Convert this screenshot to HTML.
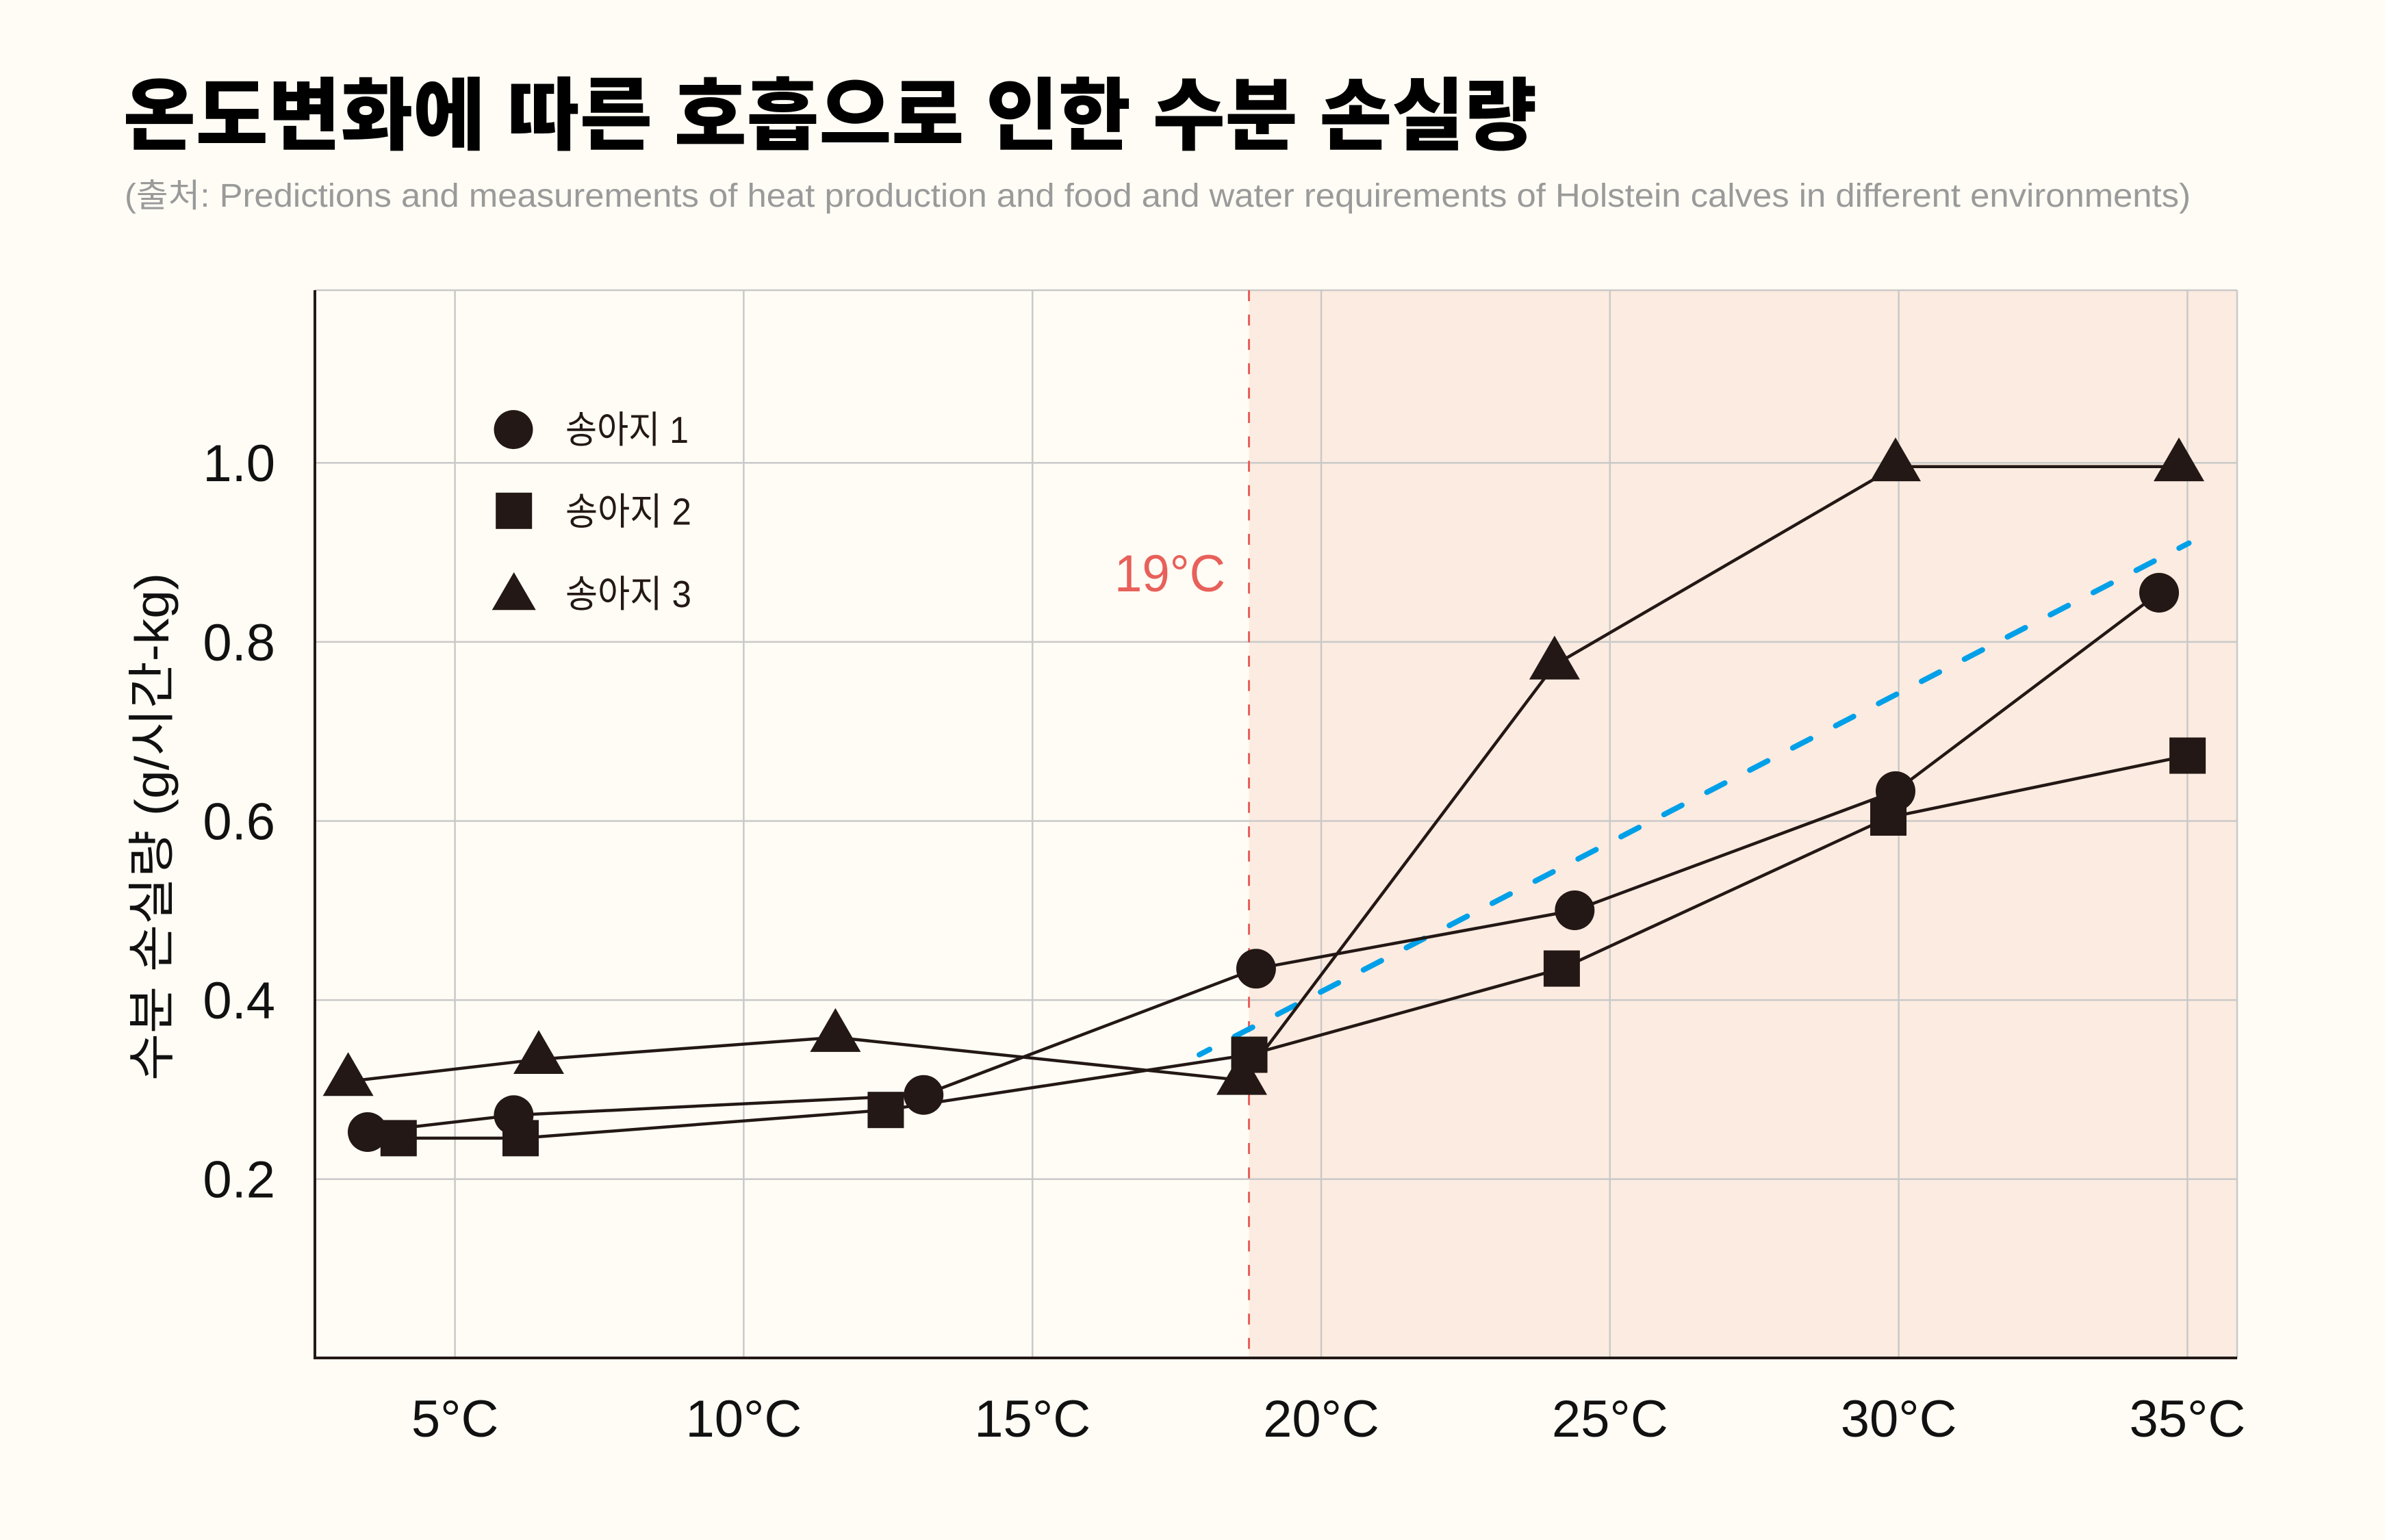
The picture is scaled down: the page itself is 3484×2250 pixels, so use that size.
<!DOCTYPE html>
<html>
<head>
<meta charset="utf-8">
<style>
html,body{margin:0;padding:0;background:#fffcf5;}
svg{display:block;}
</style>
</head>
<body>
<svg xmlns="http://www.w3.org/2000/svg" xmlns:xlink="http://www.w3.org/1999/xlink" width="3484" height="2250" viewBox="0 0 3484 2250">
<defs>
<path id="tri" d="M0,-42.7 L37,21.3 L-37,21.3Z" fill="#231815"/>
</defs>
<rect x="0" y="0" width="3484" height="2250" fill="#fffcf5"/>

<!-- Title -->
<text x="180" y="209" font-family="'Liberation Sans','Noto Sans CJK KR',sans-serif" font-size="115" font-weight="900" fill="#000" textLength="2065" lengthAdjust="spacingAndGlyphs">온도변화에 따른 호흡으로 인한 수분 손실량</text>
<!-- Subtitle -->
<text x="182" y="302" font-family="'Liberation Sans','Noto Sans CJK KR',sans-serif" font-size="48" fill="#9a9a9a" textLength="3018" lengthAdjust="spacingAndGlyphs">(출처: Predictions and measurements of heat production and food and water requirements of Holstein calves in different environments)</text>

<!-- shaded region -->
<rect x="1824.5" y="424" width="1443.5" height="1560" fill="#fcebe0"/>

<!-- gridlines -->
<g stroke="#c9c9c9" stroke-width="2.5">
<line x1="664.6" y1="424" x2="664.6" y2="1984"/>
<line x1="1086.4" y1="424" x2="1086.4" y2="1984"/>
<line x1="1508.2" y1="424" x2="1508.2" y2="1984"/>
<line x1="1930" y1="424" x2="1930" y2="1984"/>
<line x1="2351.8" y1="424" x2="2351.8" y2="1984"/>
<line x1="2773.6" y1="424" x2="2773.6" y2="1984"/>
<line x1="3195.4" y1="424" x2="3195.4" y2="1984"/>
<line x1="460" y1="676.3" x2="3268" y2="676.3"/>
<line x1="460" y1="937.9" x2="3268" y2="937.9"/>
<line x1="460" y1="1199.5" x2="3268" y2="1199.5"/>
<line x1="460" y1="1461.1" x2="3268" y2="1461.1"/>
<line x1="460" y1="1722.7" x2="3268" y2="1722.7"/>
<line x1="460" y1="424" x2="3268" y2="424"/>
<line x1="3268" y1="424" x2="3268" y2="1984"/>
</g>

<!-- red dashed threshold -->
<line x1="1824.5" y1="424" x2="1824.5" y2="1984" stroke="#e8605a" stroke-width="3" stroke-dasharray="16 19.6"/>
<text x="1790" y="864" text-anchor="end" font-family="'Liberation Sans',sans-serif" font-size="76" fill="#e8605a" textLength="162" lengthAdjust="spacingAndGlyphs">19°C</text>

<!-- blue dashed trend -->
<line x1="1752" y1="1541" x2="3197.5" y2="793.5" stroke="#00a0e9" stroke-width="8" stroke-linecap="round" stroke-dasharray="29.4 41.2" stroke-dashoffset="12.5"/>

<!-- series lines -->
<g fill="none" stroke="#231815" stroke-width="4.5" stroke-linejoin="round">
<polyline points="537,1654 750.4,1629.3 1349.2,1599.7 1834.9,1415.3 2300.3,1330 2769,1155.9 3154,866"/>
<polyline points="582.3,1662.9 760.5,1662.9 1293.9,1621.7 1825,1541 2281.4,1415.1 2758.5,1194.5 3195.6,1104"/>
<polyline points="508.6,1580 787,1547.7 1220.4,1515.6 1814,1578.3 2270.9,971.5 2769,681.8 3183,681.8"/>
</g>

<!-- markers -->
<g fill="#231815">
<circle cx="537" cy="1654" r="29"/>
<circle cx="750.4" cy="1629.3" r="29"/>
<circle cx="1349.2" cy="1599.7" r="29"/>
<circle cx="1834.9" cy="1415.3" r="29"/>
<circle cx="2300.3" cy="1330" r="29"/>
<circle cx="2769" cy="1155.9" r="29"/>
<circle cx="3154" cy="866" r="29"/>

<rect x="555.8" y="1636.4" width="53" height="53"/>
<rect x="734" y="1636.4" width="53" height="53"/>
<rect x="1267.4" y="1595.2" width="53" height="53"/>
<rect x="1798.5" y="1514.5" width="53" height="53"/>
<rect x="2254.9" y="1388.6" width="53" height="53"/>
<rect x="2732" y="1168" width="53" height="53"/>
<rect x="3169.1" y="1077.5" width="53" height="53"/>
</g>
<use xlink:href="#tri" x="508.6" y="1580"/>
<use xlink:href="#tri" x="787" y="1547.7"/>
<use xlink:href="#tri" x="1220.4" y="1515.6"/>
<use xlink:href="#tri" x="1814" y="1578.3"/>
<use xlink:href="#tri" x="2270.9" y="971.5"/>
<use xlink:href="#tri" x="2769" y="681.8"/>
<use xlink:href="#tri" x="3183" y="681.8"/>

<!-- axes -->
<line x1="460" y1="424" x2="460" y2="1986" stroke="#231815" stroke-width="4"/>
<line x1="458" y1="1984" x2="3268" y2="1984" stroke="#231815" stroke-width="4"/>

<!-- y tick labels -->
<g font-family="'Liberation Sans',sans-serif" font-size="76" fill="#111" text-anchor="end">
<text x="402" y="703">1.0</text>
<text x="402" y="965">0.8</text>
<text x="402" y="1226.5">0.6</text>
<text x="402" y="1488">0.4</text>
<text x="402" y="1749.5">0.2</text>
</g>

<!-- x tick labels -->
<g font-family="'Liberation Sans',sans-serif" font-size="76" fill="#111" text-anchor="middle">
<text x="664.6" y="2099">5°C</text>
<text x="1086.4" y="2099">10°C</text>
<text x="1508.2" y="2099">15°C</text>
<text x="1930" y="2099">20°C</text>
<text x="2351.8" y="2099">25°C</text>
<text x="2773.6" y="2099">30°C</text>
<text x="3195.4" y="2099">35°C</text>
</g>

<!-- y axis title -->
<text transform="translate(246,1208) rotate(-90)" x="0" y="0" text-anchor="middle" font-family="'Liberation Sans','Noto Sans CJK KR',sans-serif" font-size="70" fill="#111" textLength="742" lengthAdjust="spacingAndGlyphs">수분 손실량 (g/시간-kg)</text>

<!-- legend -->
<circle cx="750" cy="627.6" r="28.5" fill="#231815"/>
<rect x="724.2" y="719.8" width="53" height="53" fill="#231815"/>
<path d="M750.7,836 L782.8,891.3 L718.7,891.3Z" fill="#231815"/>
<g font-family="'Liberation Sans','Noto Sans CJK KR',sans-serif" font-size="55" fill="#231815">
<text x="826" y="647" textLength="180" lengthAdjust="spacingAndGlyphs">송아지 1</text>
<text x="826" y="766.5" textLength="184" lengthAdjust="spacingAndGlyphs">송아지 2</text>
<text x="826" y="887" textLength="184" lengthAdjust="spacingAndGlyphs">송아지 3</text>
</g>
</svg>
</body>
</html>
